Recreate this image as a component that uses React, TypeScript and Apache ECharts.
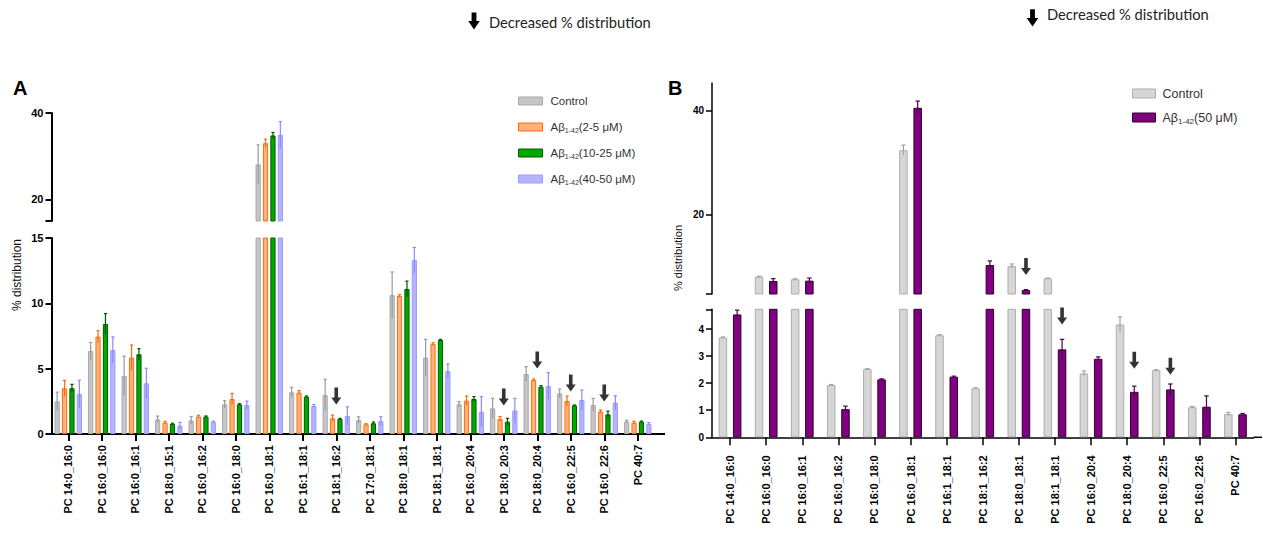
import React, { useEffect, useRef } from 'react';
import * as echarts from 'echarts';

// ---------- Panel A data ----------
const categoriesA = [
  'PC 14:0_16:0', 'PC 16:0_16:0', 'PC 16:0_16:1', 'PC 18:0_15:1', 'PC 16:0_16:2', 'PC 16:0_18:0',
  'PC 16:0_18:1', 'PC 16:1_18:1', 'PC 18:1_16:2', 'PC 17:0_18:1', 'PC 18:0_18:1', 'PC 18:1_18:1',
  'PC 16:0_20:4', 'PC 18:0_20:3', 'PC 18:0_20:4', 'PC 16:0_22:5', 'PC 16:0_22:6', 'PC 40:7',
];
const controlA = [2.5, 6.35, 4.45, 1.12, 1.04, 2.27, 28.1, 3.19, 2.98, 1.07, 10.63, 5.84, 2.27, 1.96, 4.59, 3.11, 2.22, 0.94];
const controlAErr = [0.7, 0.65, 1.5, 0.25, 0.3, 0.28, 4.5, 0.38, 1.2, 0.25, 1.77, 1.4, 0.2, 0.77, 0.56, 0.33, 0.5, 0.1];
const ab2to5A = [3.5, 7.45, 5.84, 0.87, 1.33, 2.68, 33.0, 3.17, 1.2, 0.74, 10.56, 6.88, 2.55, 1.15, 4.13, 2.52, 1.71, 0.87];
const ab2to5AErr = [0.6, 0.45, 0.97, 0.1, 0.1, 0.43, 0.95, 0.15, 0.25, 0.05, 0.1, 0.1, 0.35, 0.18, 0.08, 0.38, 0.12, 0.1];
const ab10to25A = [3.5, 8.42, 6.1, 0.77, 1.33, 2.27, 34.8, 2.86, 1.15, 0.82, 11.1, 7.19, 2.68, 0.94, 3.62, 2.19, 1.5, 0.94];
const ab10to25AErr = [0.3, 0.8, 0.43, 0.05, 0.05, 0.05, 0.7, 0.05, 0.05, 0.1, 0.6, 0.05, 0.18, 0.26, 0.08, 0.03, 0.25, 0.05];
const ab40to50A = [3.06, 6.43, 3.88, 0.64, 0.94, 2.22, 34.9, 2.14, 1.38, 0.99, 13.3, 4.82, 1.71, 1.79, 3.67, 2.6, 2.4, 0.77];
const ab40to50AErr = [1.05, 1.0, 1.15, 0.25, 0.05, 0.3, 3.1, 0.12, 0.7, 0.33, 0.98, 0.54, 1.15, 0.94, 1.02, 0.77, 0.53, 0.1];
// decreased-distribution arrows: [category, value level of arrow centre]
const arrowsA: [string, number][] = [
  ['PC 18:1_16:2', 2.9], ['PC 18:0_20:3', 2.83], ['PC 18:0_20:4', 5.66], ['PC 16:0_22:5', 3.9], ['PC 16:0_22:6', 3.14],
];
const ticksAUpper = [20, 40];
const ticksALower = [0, 5, 10, 15];

// ---------- Panel B data ----------
const categoriesB = [
  'PC 14:0_16:0', 'PC 16:0_16:0', 'PC 16:0_16:1', 'PC 16:0_16:2', 'PC 16:0_18:0', 'PC 16:0_18:1',
  'PC 16:1_18:1', 'PC 18:1_16:2', 'PC 18:0_18:1', 'PC 18:1_18:1', 'PC 16:0_20:4', 'PC 18:0_20:4',
  'PC 16:0_22:5', 'PC 16:0_22:6', 'PC 40:7',
];
const controlB = [3.69, 7.95, 7.45, 1.93, 2.52, 32.4, 3.77, 1.81, 10.0, 7.64, 2.36, 4.17, 2.48, 1.11, 0.86];
const controlBErr = [0.02, 0.1, 0.1, 0.02, 0.02, 1.0, 0.02, 0.02, 0.4, 0.05, 0.09, 0.28, 0.02, 0.03, 0.06];
const ab50B = [4.54, 7.12, 7.18, 1.04, 2.14, 40.6, 2.24, 10.2, 5.35, 3.25, 2.9, 1.68, 1.77, 1.13, 0.85];
const ab50BErr = [0.16, 0.45, 0.5, 0.11, 0.02, 1.3, 0.02, 0.8, 0.1, 0.37, 0.07, 0.21, 0.2, 0.4, 0.03];
const arrowsBUpper: [string, number][] = [['PC 18:0_18:1', 9.9]];
const arrowsBLower: [string, number][] = [['PC 18:1_18:1', 4.48], ['PC 18:0_20:4', 2.85], ['PC 16:0_22:5', 2.63]];
const ticksBUpper = [20, 40];
const ticksBLower = [0, 1, 2, 3, 4];

const FONT = '"Liberation Sans", Arial, sans-serif';
const ARROW = 'path://M3.2,0H6.8V10H10L5,17L0,10H3.2Z';

function buildOption() {
  // layout
  const A = { left: 51.5, width: 603, upTop: 113, upH: 108, loTop: 238, loH: 196, upMin: 15, upMax: 40, loMax: 15 };
  const B = { left: 712, width: 541.5, upTop: 83, upH: 211, loTop: 309.3, loH: 128, upMin: 4.6, upMax: 45.4, loMax: 4.73 };

  const seriesA = [
    { name: 'Control', vals: controlA, errs: controlAErr, fill: '#c6c6c6', border: '#a9a9a9', err: '#9a9a9a' },
    { name: 'Aβ1-42(2-5 μM)', vals: ab2to5A, errs: ab2to5AErr, fill: '#ffb27a', border: '#ff6d12', err: '#ff6a00' },
    { name: 'Aβ1-42(10-25 μM)', vals: ab10to25A, errs: ab10to25AErr, fill: '#00a800', border: '#005c00', err: '#005200' },
    { name: 'Aβ1-42(40-50 μM)', vals: ab40to50A, errs: ab40to50AErr, fill: '#b4b4ff', border: '#9c9cff', err: '#8a8aff' },
  ];
  const seriesB = [
    { name: 'Control', vals: controlB, errs: controlBErr, fill: '#d6d6d6', border: '#adadad', err: '#a4a4a4' },
    { name: 'Aβ1-42(50 μM)', vals: ab50B, errs: ab50BErr, fill: '#800080', border: '#2e002e', err: '#4a004a' },
  ];

  const aBarW = 5.2, aPitch = 7.4;
  const bBarW = 8.5, bPitch = 14.25;

  const errSeries = (xi: number, yi: number, vals: number[], errs: number[], offset: number, color: string,
    keep: (v: number) => boolean, cap: number) => ({
    type: 'custom',
    xAxisIndex: xi,
    yAxisIndex: yi,
    z: 5,
    silent: true,
    encode: { x: 0, y: 1 },
    data: vals.map((v, i) => [i, v, errs[i]]).filter((d) => keep(d[1])),
    renderItem: (params: any, api: any) => {
      const i = api.value(0), v = api.value(1), e = api.value(2);
      const p = api.coord([i, v]);
      const t = api.coord([i, v + e]);
      const b = api.coord([i, v - e]);
      const cs = params.coordSys;
      const x = p[0] + offset;
      const yTop = Math.max(t[1], cs.y);
      const yBot = Math.min(b[1], cs.y + cs.height);
      return {
        type: 'group',
        children: [
          { type: 'line', shape: { x1: x, y1: yBot, x2: x, y2: yTop }, style: { stroke: color, lineWidth: 1.2 } },
          { type: 'line', shape: { x1: x - cap, y1: t[1], x2: x + cap, y2: t[1] }, style: { stroke: color, lineWidth: 1.2 } },
        ],
      };
    },
  });

  const series: any[] = [];
  // Panel A bars (grid 0 upper, grid 1 lower)
  seriesA.forEach((s, k) => {
    const offset = (k - (seriesA.length - 1) / 2) * aPitch;
    const common = {
      type: 'bar', name: s.name, barWidth: aBarW, barGap: ((aPitch - aBarW) / aBarW * 100).toFixed(1) + '%',
      itemStyle: { color: s.fill, borderColor: s.border, borderWidth: 1 }, silent: true,
    };
    series.push({ ...common, xAxisIndex: 0, yAxisIndex: 0, data: s.vals.map((v) => (v > A.upMin ? v : '-')) });
    series.push({ ...common, xAxisIndex: 1, yAxisIndex: 1, data: s.vals });
    series.push(errSeries(0, 0, s.vals, s.errs, offset, s.err, (v) => v > A.upMin, 1.6));
    series.push(errSeries(1, 1, s.vals, s.errs, offset, s.err, (v) => v <= A.loMax, 1.6));
  });
  // Panel B bars (grid 2 upper, grid 3 lower)
  seriesB.forEach((s, k) => {
    const offset = (k - (seriesB.length - 1) / 2) * bPitch;
    const common = {
      type: 'bar', name: s.name, barWidth: bBarW, barGap: ((bPitch - bBarW) / bBarW * 100).toFixed(1) + '%',
      itemStyle: { color: s.fill, borderColor: s.border, borderWidth: 1 }, silent: true,
    };
    series.push({ ...common, xAxisIndex: 2, yAxisIndex: 2, data: s.vals.map((v) => (v > B.upMin ? v : '-')) });
    series.push({ ...common, xAxisIndex: 3, yAxisIndex: 3, data: s.vals });
    series.push(errSeries(2, 2, s.vals, s.errs, offset, s.err, (v) => v > B.upMin, 2.2));
    series.push(errSeries(3, 3, s.vals, s.errs, offset, s.err, (v) => v <= B.loMax, 2.2));
  });

  const arrowSeries = (xi: number, cats: string[], arr: [string, number][], offset: number) => ({
    type: 'scatter', xAxisIndex: xi, yAxisIndex: xi, silent: true, clip: false, z: 6,
    symbol: ARROW, symbolSize: [10, 17], symbolOffset: [offset, 0],
    itemStyle: { color: '#000' },
    data: arr.map(([c, y]) => [cats.indexOf(c), y]),
  });
  series.push(arrowSeries(1, categoriesA, arrowsA, 0));
  series.push(arrowSeries(2, categoriesB, arrowsBUpper, bPitch / 2));
  series.push(arrowSeries(3, categoriesB, arrowsBLower, bPitch / 2));

  const xCat = (gi: number, cats: string[], show: boolean, lw: number, tickLen: number, margin: number) => ({
    type: 'category', gridIndex: gi, data: cats, show,
    axisLine: { show, lineStyle: { color: '#000', width: lw } },
    axisTick: { show, alignWithLabel: true, interval: 0, length: tickLen, lineStyle: { color: '#000', width: lw } },
    axisLabel: { show, interval: 0, rotate: 90, margin, fontFamily: FONT, fontWeight: 'bold', fontSize: 11, color: '#000' },
    splitLine: { show: false },
  });
  const yVal = (gi: number, min: number, max: number, tickVals: number[], labelVals: number[], lw: number,
    tickLen: number, fs: number, margin: number) => ({
    type: 'value', gridIndex: gi, min, max,
    axisLine: { show: true, lineStyle: { color: '#000', width: lw } },
    axisTick: { show: true, length: tickLen, customValues: tickVals, lineStyle: { color: '#000', width: lw } },
    axisLabel: { show: true, customValues: labelVals, margin, fontFamily: FONT, fontWeight: 'bold', fontSize: fs, color: '#000' },
    splitLine: { show: false },
  });

  const richSub = (fs: number, lh: number) => ({
    sub: { fontSize: fs, fontFamily: FONT, color: '#333', verticalAlign: 'bottom', lineHeight: lh },
  });
  const fmt = (name: string) => name.replace('Aβ1-42', 'Aβ{sub|1-42}');

  return {
    animation: false,
    backgroundColor: '#fff',
    grid: [
      { left: A.left, top: A.upTop, width: A.width, height: A.upH },
      { left: A.left, top: A.loTop, width: A.width, height: A.loH },
      { left: B.left, top: B.upTop, width: B.width, height: B.upH },
      { left: B.left, top: B.loTop, width: B.width, height: B.loH },
    ],
    xAxis: [
      xCat(0, categoriesA, false, 2, 7, 11),
      xCat(1, categoriesA, true, 2, 7, 11),
      xCat(2, categoriesB, false, 1.5, 8, 18),
      xCat(3, categoriesB, true, 1.5, 8, 18),
    ],
    yAxis: [
      yVal(0, A.upMin, A.upMax, [A.upMin, ...ticksAUpper], ticksAUpper, 2, 6, 11, 8),
      yVal(1, 0, A.loMax, ticksALower, ticksALower, 2, 6, 11, 8),
      yVal(2, B.upMin, B.upMax, [B.upMin, ...ticksBUpper], ticksBUpper, 1.5, 6, 10, 8),
      yVal(3, 0, B.loMax, [...ticksBLower, B.loMax], ticksBLower, 1.5, 6, 10, 8),
    ],
    legend: [
      {
        orient: 'vertical', left: 513, top: 89, itemWidth: 24, itemHeight: 8, itemGap: 12, icon: 'rect',
        selectedMode: false,
        formatter: fmt,
        textStyle: { fontFamily: FONT, fontSize: 11.5, color: '#333', lineHeight: 14, padding: [0, 0, 0, 3], rich: richSub(7, 14) },
        data: seriesA.map((s) => ({ name: s.name, itemStyle: { color: s.fill, borderColor: s.border, borderWidth: 1 } })),
      },
      {
        orient: 'vertical', left: 1127, top: 81, itemWidth: 23, itemHeight: 9, itemGap: 9, icon: 'rect',
        selectedMode: false,
        formatter: fmt,
        textStyle: { fontFamily: FONT, fontSize: 12.5, color: '#333', lineHeight: 15, padding: [0, 0, 0, 2], rich: richSub(8, 15) },
        data: seriesB.map((s) => ({ name: s.name, itemStyle: { color: s.fill, borderColor: s.border, borderWidth: 1 } })),
      },
    ],
    graphic: [
      { type: 'text', x: 13, y: 88, style: { text: 'A', fontFamily: FONT, fontWeight: 'bold', fontSize: 20, fill: '#000', textVerticalAlign: 'middle', verticalAlign: 'middle' } },
      { type: 'text', x: 668, y: 88, style: { text: 'B', fontFamily: FONT, fontWeight: 'bold', fontSize: 20, fill: '#000', textVerticalAlign: 'middle', verticalAlign: 'middle' } },
      { type: 'text', x: 17, y: 275, rotation: Math.PI / 2, style: { text: '% distribution', fontFamily: FONT, fontSize: 12, fill: '#111', textAlign: 'center', align: 'center', textVerticalAlign: 'middle', verticalAlign: 'middle' } },
      { type: 'text', x: 678, y: 258, rotation: Math.PI / 2, style: { text: '% distribution', fontFamily: FONT, fontSize: 11, fill: '#111', textAlign: 'center', align: 'center', textVerticalAlign: 'middle', verticalAlign: 'middle' } },
      { type: 'polygon', shape: { points: [[471.6, 12.5], [476.4, 12.5], [476.4, 21], [479.8, 21], [474, 29.5], [468.2, 21], [471.6, 21]] }, style: { fill: '#000' } },
      { type: 'text', x: 489, y: 21.5, style: { text: 'Decreased % distribution', fontFamily: 'Lato, "Open Sans", sans-serif', fontSize: 14.7, fill: '#222', textVerticalAlign: 'middle', verticalAlign: 'middle' } },
      { type: 'polygon', shape: { points: [[1030.1, 9.3], [1034.9, 9.3], [1034.9, 18], [1038.3, 18], [1032.5, 26.5], [1026.7, 18], [1030.1, 18]] }, style: { fill: '#000' } },
      { type: 'text', x: 1047, y: 14, style: { text: 'Decreased % distribution', fontFamily: 'Lato, "Open Sans", sans-serif', fontSize: 14.7, fill: '#222', textVerticalAlign: 'middle', verticalAlign: 'middle' } },
      { type: 'line', shape: { x1: A.left + A.width, y1: A.loTop + A.loH, x2: 665, y2: A.loTop + A.loH }, style: { stroke: '#000', lineWidth: 2 } },
      { type: 'line', shape: { x1: B.left + B.width, y1: B.loTop + B.loH, x2: 1262, y2: B.loTop + B.loH }, style: { stroke: '#000', lineWidth: 1.5 } },
    ],
    series,
  };
}

export default function App() {
  const ref = useRef<HTMLDivElement>(null);
  useEffect(() => {
    if (!ref.current) return;
    const chart = echarts.init(ref.current, null, { renderer: 'svg' });
    chart.setOption(buildOption() as any);
    return () => chart.dispose();
  }, []);
  return (
    <div
      ref={ref}
      style={{ position: 'fixed', left: 0, top: 0, width: 1263, height: 540, background: '#fff' }}
    />
  );
}
